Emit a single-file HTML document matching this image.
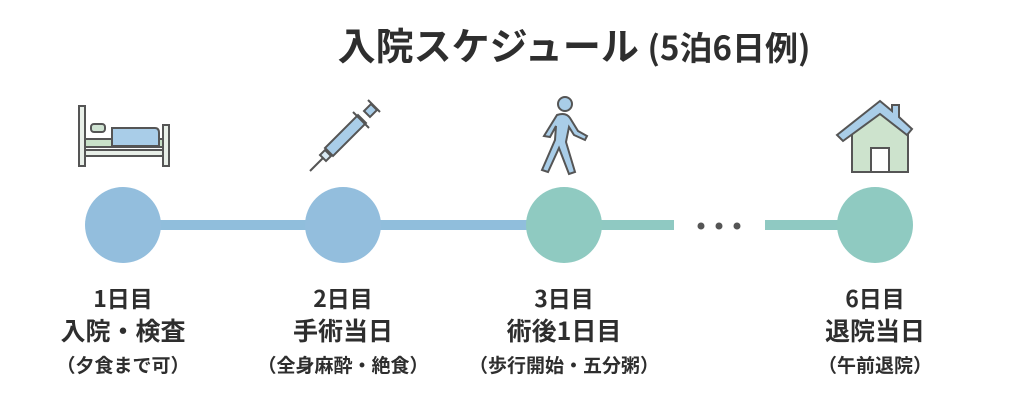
<!DOCTYPE html>
<html><head><meta charset="utf-8"><style>
body{margin:0;width:1024px;height:400px;background:#fff;position:relative;overflow:hidden;font-family:"Noto Sans CJK JP","Liberation Sans",sans-serif;color:#2e2e2e}
.t{position:absolute;white-space:nowrap;font-weight:bold;text-align:center;transform:translateX(-50%);line-height:1}
.l1{font-size:23px;top:286px}
.l2{font-size:25px;top:318px}
.l3{font-size:19px;top:355px}
</style></head><body>
<div class="t" style="left:574px;top:25px;font-size:38px">入院スケジュール <span style="font-size:33px">(5泊6日例)</span></div>
<svg width="1024" height="400" style="position:absolute;left:0;top:0">
<rect x="150" y="220" width="380" height="10" fill="#90bedc"/>
<rect x="590" y="220" width="84" height="10" fill="#8fc9c2"/>
<rect x="765" y="220" width="80" height="10" fill="#8fc9c2"/>
<circle cx="701" cy="226" r="3.5" fill="#555"/><circle cx="719" cy="226" r="3.5" fill="#555"/><circle cx="737" cy="226" r="3.5" fill="#555"/>
<circle cx="123" cy="225" r="38" fill="#93bedd"/>
<circle cx="343" cy="225" r="38" fill="#93bedd"/>
<circle cx="564" cy="225" r="38" fill="#8fcac1"/>
<circle cx="875" cy="225" r="38" fill="#8fcac1"/>
<g stroke="#555" stroke-width="2">
<rect x="79" y="106" width="6" height="60" fill="#e8efe8"/>
<rect x="163" y="125" width="6" height="41" fill="#e8efe8"/>
<rect x="85" y="139" width="78" height="8" fill="#c8e0c8"/>
<rect x="91" y="124" width="14" height="8" rx="3" fill="#cfe3d2"/>
<path d="M112 128 H155 Q159 128 159 133 V146 H112 Z" fill="#a9cde8"/>
<rect x="85" y="150" width="78" height="6" fill="#e8efe8"/>
</g>
<g stroke="#555" stroke-width="2" fill="#d8e8f2">
<line x1="310" y1="171" x2="323" y2="158"/>
<polygon points="320,155 326,161 331,156 325,150"/>
<polygon points="325,148 333,156 366,123 358,115" fill="#a9cde8"/>
<line x1="353" y1="112" x2="369" y2="128"/>
<polygon points="364,111 370,117 377,110 371,104" fill="#a9cde8"/>
<line x1="368" y1="100" x2="380" y2="112"/>
</g>
<g stroke="#555" stroke-width="2" fill="#a9cde8">
<circle cx="565" cy="104" r="7"/>
<path d="M557 115 Q566 112 570 118 L578 131 L587 136 L585 140 L574 135 L569 127 L566 142 L575 172 L569 174 L559 148 L548 172 L542 170 L555 140 L556 126 L550 137 L544 136 Z"/>
</g>
<g stroke="#555" stroke-width="2">
<polygon points="852,130 880,108 908,130 908,172 852,172" fill="#cde3cd"/>
<rect x="871" y="148" width="18" height="24" fill="#fff"/>
<polygon points="837,135 880,101 892,111 892,105 899,105 899,117 912,129 907,135 880,114 843,141" fill="#a9cde8"/>
</g>
</svg>
<div class="t l1" style="left:123px">1日目</div>
<div class="t l2" style="left:123px">入院・検査</div>
<div class="t l3" style="left:123px">（夕食まで可）</div>
<div class="t l1" style="left:343px">2日目</div>
<div class="t l2" style="left:343px">手術当日</div>
<div class="t l3" style="left:343px">（全身麻酔・絶食）</div>
<div class="t l1" style="left:564px">3日目</div>
<div class="t l2" style="left:564px">術後1日目</div>
<div class="t l3" style="left:564px">（歩行開始・五分粥）</div>
<div class="t l1" style="left:875px">6日目</div>
<div class="t l2" style="left:875px">退院当日</div>
<div class="t l3" style="left:875px">（午前退院）</div>
</body></html>
